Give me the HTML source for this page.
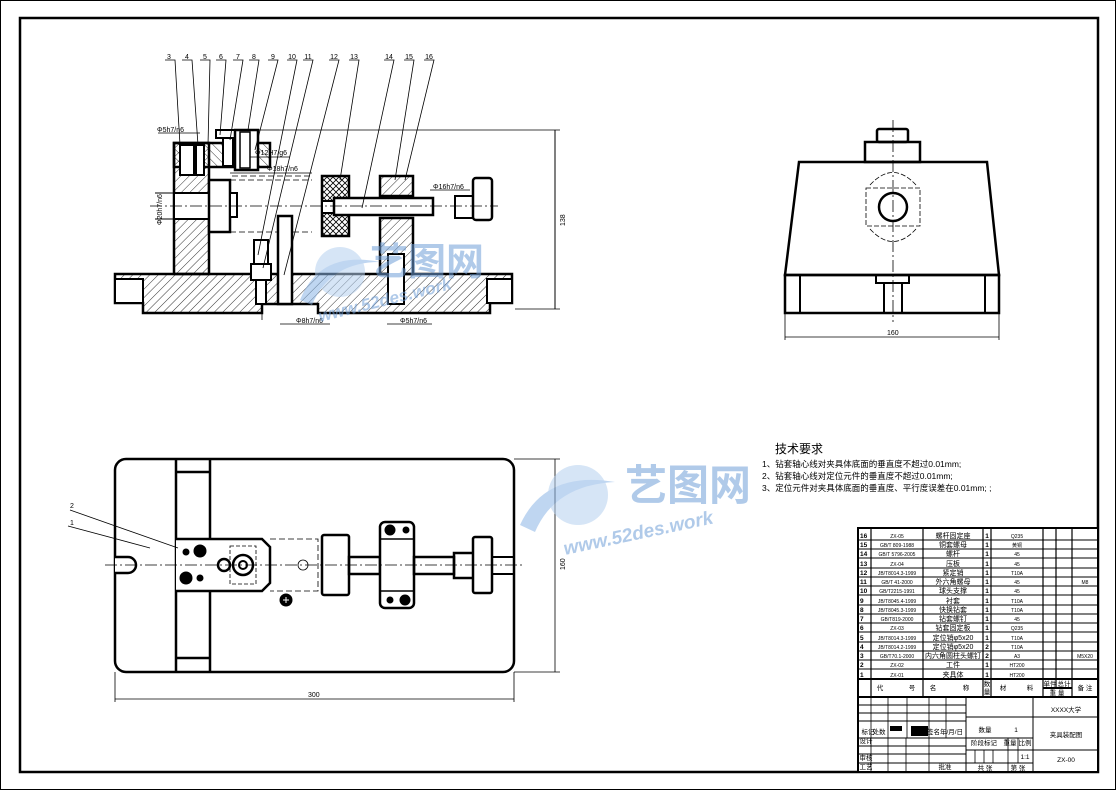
<!DOCTYPE html>
<html><head><meta charset="utf-8"><style>
html,body{margin:0;padding:0;background:#fff}
svg{display:block}
text{font-family:"Liberation Sans","Noto Sans CJK SC",sans-serif}
</style></head><body>
<svg width="1116" height="790" viewBox="0 0 1116 790" xmlns="http://www.w3.org/2000/svg">
<defs>
<pattern id="h" width="6" height="6" patternUnits="userSpaceOnUse" patternTransform="rotate(45)"><line x1="0" y1="0" x2="0" y2="6" stroke="#000" stroke-width="0.8"/></pattern>
<pattern id="h2" width="6" height="6" patternUnits="userSpaceOnUse" patternTransform="rotate(-45)"><line x1="0" y1="0" x2="0" y2="6" stroke="#000" stroke-width="0.8"/></pattern>
<pattern id="x" width="6" height="6" patternUnits="userSpaceOnUse"><path d="M0 0L6 6M6 0L0 6" stroke="#000" stroke-width="0.8"/></pattern>
</defs>
<rect x="0.5" y="0.5" width="1115" height="789" fill="#fff" stroke="#000" stroke-width="1"/>
<rect x="20" y="18" width="1078" height="754" fill="none" stroke="#000" stroke-width="2.5"/>

<!-- FRONT VIEW -->
<g stroke="#000" fill="none">
<path d="M115 274H512V303H490V313H318V304H262V313H143V303H115Z" fill="url(#h)" stroke-width="2.5"/>
<rect x="115" y="279" width="28" height="24" fill="#fff" stroke-width="2"/>
<rect x="487" y="279" width="25" height="24" fill="#fff" stroke-width="2"/>
<rect x="174" y="143" width="35" height="131" fill="url(#h)" stroke-width="2.5"/>
<rect x="174" y="143" width="96" height="24" fill="url(#h2)" stroke-width="2.5"/>
<rect x="180" y="145" width="14" height="30" fill="#fff" stroke-width="2"/>
<rect x="196" y="145" width="8" height="30" fill="#fff" stroke-width="2"/>
<rect x="216" y="130" width="25" height="8" fill="#fff" stroke-width="2"/>
<rect x="223" y="138" width="10" height="28" fill="#fff" stroke-width="2"/>
<rect x="235" y="130" width="23" height="40" fill="#fff" stroke-width="2.5"/>
<rect x="240" y="132" width="10" height="36" fill="#fff" stroke-width="1.5"/>
<rect x="174" y="193" width="35" height="26" fill="#fff" stroke-width="2"/>
<line x1="155" y1="193" x2="174" y2="193" stroke-width="1"/><line x1="155" y1="219" x2="174" y2="219" stroke-width="1"/>
<rect x="209" y="180" width="21" height="52" fill="#fff" stroke-width="2.5"/>
<rect x="230" y="193" width="7" height="24" fill="#fff" stroke-width="2"/>
<path d="M230 180H312M230 232H312M232 176H312" stroke-width="0.8" stroke-dasharray="6 3"/>
<rect x="322" y="176" width="27" height="60" fill="url(#x)" stroke-width="2.5"/>
<rect x="322" y="201" width="12" height="12" fill="#fff" stroke-width="2"/>
<rect x="334" y="198" width="99" height="17" fill="#fff" stroke-width="2.5"/>
<rect x="380" y="176" width="33" height="20" fill="url(#h)" stroke-width="2.5"/>
<rect x="380" y="218" width="33" height="56" fill="url(#h)" stroke-width="2.5"/>
<rect x="388" y="254" width="16" height="50" fill="#fff" stroke-width="2"/>
<rect x="455" y="196" width="20" height="22" fill="#fff" stroke-width="2"/>
<rect x="473" y="178" width="19" height="42" rx="3" fill="#fff" stroke-width="2.5"/>
<rect x="278" y="216" width="14" height="88" fill="#fff" stroke-width="2.5"/>
<rect x="254" y="240" width="14" height="24" fill="#fff" stroke-width="2"/>
<rect x="251" y="264" width="20" height="16" fill="#fff" stroke-width="2"/>
<rect x="256" y="280" width="10" height="24" fill="#fff" stroke-width="2"/>
<line x1="150" y1="206" x2="498" y2="206" stroke-width="0.8" stroke-dasharray="12 3 2 3"/>
<line x1="555" y1="130" x2="555" y2="309" stroke-width="1"/>
<line x1="258" y1="130" x2="560" y2="130" stroke-width="0.8"/>
<line x1="515" y1="309" x2="560" y2="309" stroke-width="0.8"/>
<line x1="158" y1="133" x2="200" y2="133" stroke-width="0.8"/>
<line x1="250" y1="157" x2="290" y2="157" stroke-width="0.8"/>
<line x1="230" y1="173" x2="312" y2="173" stroke-width="0.8"/>
<line x1="430" y1="190" x2="470" y2="190" stroke-width="0.8"/>
<line x1="280" y1="324" x2="330" y2="324" stroke-width="0.8"/>
<line x1="387" y1="324" x2="432" y2="324" stroke-width="0.8"/>
<line x1="262" y1="305" x2="262" y2="320" stroke-width="0.8"/>
</g>
<g font-size="7" fill="#000">
<text x="157" y="132">Φ5h7/n6</text><text x="255" y="155">Φ12H7/g6</text>
<text x="267" y="171">Φ18h7/n6</text><text x="433" y="189">Φ16h7/n6</text>
<text x="296" y="323">Φ8h7/n6</text><text x="400" y="323">Φ5h7/n6</text>
<text x="162" y="225" transform="rotate(-90 162 225)">Φ20h7/n6</text>
<text x="565" y="226" transform="rotate(-90 565 226)">138</text>
</g>
<g stroke="#000" stroke-width="0.8" fill="none">
<path d="M165 60H175L180 145M182 60H192L198 145M200 60H210L208 145M216 60H226L220 135M233 60H243L230 140M249 60H259L248 130M268 60H278L255 150M287 60H297L258 255M303 60H313L263 268M329 60H339L284 275M349 60H359L340 180M384 60H394L362 208M404 60H414L395 180M424 60H434L405 180"/>
</g>
<g font-size="7" fill="#000" text-anchor="middle">
<text x="169" y="59">3</text><text x="187" y="59">4</text><text x="205" y="59">5</text><text x="221" y="59">6</text><text x="238" y="59">7</text><text x="254" y="59">8</text><text x="273" y="59">9</text><text x="292" y="59">10</text><text x="308" y="59">11</text><text x="334" y="59">12</text><text x="354" y="59">13</text><text x="389" y="59">14</text><text x="409" y="59">15</text><text x="429" y="59">16</text>
</g>

<!-- SIDE VIEW -->
<g stroke="#000" fill="none" stroke-width="2.5">
<path d="M799 162H987L999 275H785Z" fill="#fff"/>
<rect x="785" y="275" width="214" height="38"/>
<path d="M800 275V313M985 275V313" stroke-width="2"/>
<rect x="865" y="142" width="55" height="20"/>
<rect x="877" y="129" width="31" height="13" rx="2"/>
<rect x="876" y="275" width="33" height="8" stroke-width="2"/>
<path d="M884 283V313M902 283V313" stroke-width="2"/>
<circle cx="893" cy="207" r="14"/>
<path d="M866 188H920V226H866Z M870 185Q893 160 916 185 M870 229Q893 254 916 229" stroke-width="0.8" stroke-dasharray="5 2"/>
<line x1="893" y1="120" x2="893" y2="322" stroke-width="0.8" stroke-dasharray="12 3 2 3"/>
<line x1="785" y1="337" x2="999" y2="337" stroke-width="0.8"/>
<path d="M785 313V340M999 313V340" stroke-width="0.8"/>
</g>
<text x="887" y="335" font-size="7">160</text>

<!-- TOP VIEW -->
<g stroke="#000" fill="none">
<rect x="115" y="459" width="399" height="213" rx="11" fill="#fff" stroke-width="2.5"/>
<path d="M176 459V672M210 459V672M176 472H210M176 658H210" stroke-width="2.5"/>
<path d="M115 557H128A8 8 0 0 1 128 573H115" stroke-width="2.5" fill="#fff"/>
<path d="M176 539H262L270 547V583L262 591H176" fill="#fff" stroke-width="2.5"/>
<path d="M270 539H318V591H270" stroke-width="0.8" stroke-dasharray="6 3"/>
<path d="M230 546H256V584H230Z" stroke-width="0.8" stroke-dasharray="4 2"/>
<circle cx="243" cy="565" r="10" stroke-width="2.5"/><circle cx="243" cy="565" r="4" stroke-width="2"/>
<circle cx="224" cy="565" r="6" stroke-width="2.5"/>
<circle cx="200" cy="551" r="6" fill="#000"/><circle cx="186" cy="552" r="3" fill="#000"/>
<circle cx="186" cy="578" r="6" fill="#000"/><circle cx="200" cy="578" r="3" fill="#000"/>
<circle cx="286" cy="600" r="6" fill="#000"/><path d="M283 600H289M286 597V603" stroke="#fff" stroke-width="1"/>
<circle cx="303" cy="565" r="5" stroke-width="0.8"/>
<rect x="322" y="535" width="27" height="60" rx="2" fill="#fff" stroke-width="2.5"/>
<rect x="349" y="557" width="31" height="17" stroke-width="2.5"/>
<rect x="380" y="522" width="34" height="86" rx="5" fill="#fff" stroke-width="2.5"/>
<path d="M380 539H414M380 591H414" stroke-width="1.5"/>
<circle cx="390" cy="530" r="5" fill="#000"/><circle cx="406" cy="530" r="3" fill="#000"/>
<circle cx="405" cy="600" r="5" fill="#000"/><circle cx="390" cy="600" r="3" fill="#000"/>
<rect x="414" y="557" width="40" height="17" stroke-width="2.5"/>
<rect x="454" y="553" width="20" height="25" stroke-width="2.5"/>
<rect x="473" y="537" width="19" height="56" rx="2" fill="#fff" stroke-width="2.5"/>
<path d="M492 557H514M492 574H514" stroke-width="2"/>
<line x1="105" y1="565" x2="522" y2="565" stroke-width="0.8" stroke-dasharray="12 3 2 3"/>
<line x1="115" y1="699" x2="514" y2="699" stroke-width="0.8"/>
<path d="M115 672V702M514 672V702" stroke-width="0.8"/>
<line x1="555" y1="459" x2="555" y2="672" stroke-width="0.8"/>
<path d="M514 459H560M514 672H560" stroke-width="0.8"/>
<path d="M70 510L178 548M68 526L150 548" stroke-width="0.8"/>
</g>
<g font-size="7" fill="#000"><text x="308" y="697">300</text><text x="70" y="508">2</text><text x="70" y="525">1</text>
<text x="565" y="570" transform="rotate(-90 565 570)">160</text></g>

<!-- WATERMARKS -->
<g fill="#6f9fd8" opacity="0.55">
<circle cx="340" cy="272" r="25" fill="#b5d0ef"/>
<path d="M300 300Q320 250 380 262Q330 262 312 305Z" fill="#8bb5e6"/>
<text x="370" y="275" font-size="38" font-family="'Noto Sans CJK SC',sans-serif" font-weight="bold">艺图网</text>
<text x="320" y="322" font-size="17" font-style="italic" font-weight="bold" transform="rotate(-14 320 322)">www.52des.work</text>
<circle cx="578" cy="495" r="30" fill="#b5d0ef"/>
<path d="M520 525Q545 470 615 482Q555 485 535 532Z" fill="#8bb5e6"/>
<text x="625" y="500" font-size="42" font-family="'Noto Sans CJK SC',sans-serif" font-weight="bold">艺图网</text>
<text x="565" y="555" font-size="19" font-style="italic" font-weight="bold" transform="rotate(-12 565 555)">www.52des.work</text>
</g>

<!-- TECH REQ -->
<g font-family="'Noto Sans CJK SC',sans-serif" fill="#000">
<text x="775" y="453" font-size="12">技术要求</text>
<text x="762" y="467" font-size="8.5">1、钻套轴心线对夹具体底面的垂直度不超过0.01mm;</text>
<text x="762" y="479" font-size="8.5">2、钻套轴心线对定位元件的垂直度不超过0.01mm;</text>
<text x="762" y="491" font-size="8.5">3、定位元件对夹具体底面的垂直度、平行度误差在0.01mm; ;</text>
</g>

<!-- TITLE BLOCK -->
<g stroke="#000" fill="none">
<rect x="858" y="528" width="240" height="244" fill="#fff" stroke-width="2"/>
<path d="M871 528V697M923 528V697M983 528V697M991 528V697M1043 528V697M1056 528V688M1072 528V697" stroke-width="1.2"/>
<path d="M858 540H1098M858 549H1098M858 558H1098M858 568H1098M858 577H1098M858 586H1098M858 595H1098M858 605H1098M858 614H1098M858 623H1098M858 632H1098M858 642H1098M858 651H1098M858 660H1098M858 669H1098" stroke-width="1"/>
<path d="M858 679H1098M858 697H1098M1043 688H1072" stroke-width="2"/>
<path d="M966 697V772M1033 697V772M966 717H1033M966 738H1033M1033 717H1098M1033 750H1098M858 738H966M858 705H966M858 713H966M858 721H966M858 746H966M858 754H966M858 763H966M966 750H1033M966 763H1033" stroke-width="1"/>
<path d="M871 697V772M888 697V738M907 697V738M929 697V772M946 697V738M966 697V772M1008 738V772M1018 738V763M975 750V763M984 750V763M993 750V763M888 738V772M906 738V772" stroke-width="0.8"/>
<rect x="890" y="726" width="12" height="5" fill="#000" stroke="none"/>
<rect x="911" y="726" width="17" height="10" fill="#000" stroke="none"/>
</g>
<g font-size="5" fill="#000" text-anchor="middle" font-family="'Liberation Sans','Noto Sans CJK SC',sans-serif">
<g text-anchor="start" font-size="6.5" font-weight="bold"><text x="860" y="538">16</text><text x="860" y="547">15</text><text x="860" y="556">14</text><text x="860" y="566">13</text><text x="860" y="575">12</text><text x="860" y="584">11</text><text x="860" y="593">10</text><text x="860" y="603">9</text><text x="860" y="612">8</text><text x="860" y="621">7</text><text x="860" y="630">6</text><text x="860" y="640">5</text><text x="860" y="649">4</text><text x="860" y="658">3</text><text x="860" y="667">2</text><text x="860" y="677">1</text></g>
<text x="897" y="538">ZX-05</text><text x="897" y="547">GB/T 809-1988</text><text x="897" y="556">GB/T 5796-2005</text><text x="897" y="566">ZX-04</text><text x="897" y="575">JB/T8014.3-1999</text><text x="897" y="584">GB/T 41-2000</text><text x="897" y="593">GB/T2215-1991</text><text x="897" y="603">JB/T8045.4-1999</text><text x="897" y="612">JB/T8045.3-1999</text><text x="897" y="621">GB/T819-2000</text><text x="897" y="630">ZX-03</text><text x="897" y="640">JB/T8014.3-1999</text><text x="897" y="649">JB/T8014.2-1999</text><text x="897" y="658">GB/T70.1-2000</text><text x="897" y="667">ZX-02</text><text x="897" y="677">ZX-01</text>
<g font-size="7"><text x="953" y="538">螺杆固定座</text><text x="953" y="547">铜套螺母</text><text x="953" y="556">螺杆</text><text x="953" y="566">压板</text><text x="953" y="575">紧定销</text><text x="953" y="584">外六角螺母</text><text x="953" y="593">球头支撑</text><text x="953" y="603">衬套</text><text x="953" y="612">快换钻套</text><text x="953" y="621">钻套螺钉</text><text x="953" y="630">钻套固定板</text><text x="953" y="640">定位销φ5x20</text><text x="953" y="649">定位销φ5x20</text><text x="953" y="658">内六角圆柱头螺钉</text><text x="953" y="667">工件</text><text x="953" y="677">夹具体</text></g>
<g font-size="6.5" font-weight="bold"><text x="987" y="538">1</text><text x="987" y="547">1</text><text x="987" y="556">1</text><text x="987" y="566">1</text><text x="987" y="575">1</text><text x="987" y="584">1</text><text x="987" y="593">1</text><text x="987" y="603">1</text><text x="987" y="612">1</text><text x="987" y="621">1</text><text x="987" y="630">1</text><text x="987" y="640">1</text><text x="987" y="649">2</text><text x="987" y="658">2</text><text x="987" y="667">1</text><text x="987" y="677">1</text></g>
<text x="1017" y="538">Q235</text><text x="1017" y="547">黄铜</text><text x="1017" y="556">45</text><text x="1017" y="566">45</text><text x="1017" y="575">T10A</text><text x="1017" y="584">45</text><text x="1017" y="593">45</text><text x="1017" y="603">T10A</text><text x="1017" y="612">T10A</text><text x="1017" y="621">45</text><text x="1017" y="630">Q235</text><text x="1017" y="640">T10A</text><text x="1017" y="649">T10A</text><text x="1017" y="658">A3</text><text x="1017" y="667">HT200</text><text x="1017" y="677">HT200</text>
<text x="1085" y="584">M8</text><text x="1085" y="658">M5X20</text>
<g font-size="6.5"><text x="880" y="690">代</text><text x="912" y="690">号</text><text x="933" y="690">名</text><text x="966" y="690">称</text><text x="987" y="686">数</text><text x="987" y="694">量</text><text x="1003" y="690">材</text><text x="1030" y="690">料</text><text x="1050" y="686">单件</text><text x="1064" y="686">总计</text><text x="1057" y="695">重 量</text><text x="1085" y="690">备 注</text>
<text x="1066" y="712">XXXX大学</text><text x="1066" y="737">夹具装配图</text><text x="1066" y="762">ZX-00</text>
<text x="985" y="732">数量</text><text x="1016" y="732">1</text><text x="984" y="745">阶段标记</text><text x="1010" y="745">重量</text><text x="1025" y="745">比例</text><text x="1025" y="759">1:1</text>
<text x="985" y="770">共 张</text><text x="1018" y="770">第 张</text>
<text x="868" y="734">标记</text><text x="879" y="734">处数</text><text x="945" y="734">签名年/月/日</text><text x="866" y="743">设计</text><text x="866" y="760">审核</text><text x="866" y="769">工艺</text><text x="945" y="769">批准</text></g>
</g>
</svg>
</body></html>
